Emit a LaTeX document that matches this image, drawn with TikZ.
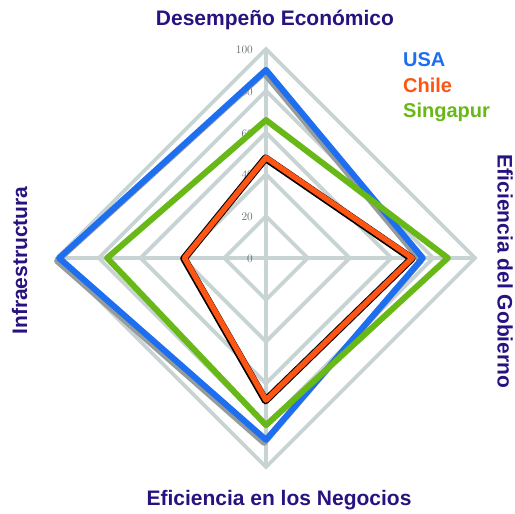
\documentclass[tikz,border=0pt]{standalone}
\usepackage{fontspec}
\usepackage{tikz}
\usetikzlibrary{positioning}
\newfontfamily\labelfont{Liberation Sans}
\definecolor{titlecol}{RGB}{40,18,128}
\definecolor{usablue}{RGB}{30,110,240}
\definecolor{chileorange}{RGB}{255,85,20}
\definecolor{singgreen}{RGB}{104,184,24}
\definecolor{gridgray}{RGB}{200,212,212}
\definecolor{shadowgray}{RGB}{150,155,155}
\definecolor{ticktext}{RGB}{95,105,105}
\tikzset{
    axistitle/.style={
        font=\labelfont\bfseries\fontsize{21}{21}\selectfont,
        text=titlecol, % titulos de los ejes
        inner sep=0,
        anchor=base
    },
    legendentry/.style={
        font=\labelfont\bfseries\fontsize{20}{20}\selectfont,
        inner sep=0,
        anchor=base west
    },
    ticklabel/.style={
        font=\fontsize{11.5}{11.5}\selectfont,
        text=ticktext,
        inner sep=0,
        anchor=base east
    },
    gridline/.style={draw=gridgray, line width=3.8pt},
    series/.style={line width=6pt, line join=round}
}

\begin{document}
\begin{tikzpicture}[x=1pt,y=1pt]
            \useasboundingbox (0,0) rectangle (515,514);
            % titulos
            \node[axistitle] (econ) at (275,488) {Desempeño Económico};
            \node[axistitle] (negocios) at (279,8) {Eficiencia en los Negocios};
            \node[axistitle, rotate=90] (infra) at (27,253.5) {Infraestructura};
            \node[axistitle, rotate=-90] (gobierno) at (497.5,242.5) {Eficiencia del Gobierno};
            % leyenda
            \node[legendentry, text=usablue] (usa) at (403,447) {USA};
            \node[legendentry, text=chileorange] (chile) at (403,421) {Chile};
            \node[legendentry, text=singgreen] (singapur) at (403,396.5) {Singapur};
            \begin{scope}[shift={(266,256)}]
                % rejilla
                \foreach \v in {20,40,...,100}
                    \draw[gridline] (90:{\v*2.09}) -- (0:{\v*2.09}) -- (270:{\v*2.09}) -- (180:{\v*2.09}) -- cycle;
                \draw[gridline] (90:209) -- (270:209);
                \draw[gridline] (180:209) -- (0:209);
                \foreach \v in {0,20,...,100}
                    \node[ticklabel] (t\v) at (-13,{\v*2.09-4.5}) {\v};
                % USA
                \draw[series, shadowgray, shift={(-2,-3)}] (90:{90*2.09}) -- (0:{75*2.09}) -- (270:{87*2.09}) -- (180:{99*2.09}) -- cycle;
                \draw[series, usablue] (90:{90*2.09}) -- (0:{75*2.09}) -- (270:{87*2.09}) -- (180:{99*2.09}) -- cycle;
                % Singapur
                \draw[series, singgreen] (90:{66*2.09}) -- (0:{87*2.09}) -- (270:{80*2.09}) -- (180:{76*2.09}) -- cycle;
                % Chile
                \draw[series, black, line width=7.5pt, shift={(-0.5,-0.5)}] (90:{48*2.09}) -- (0:{70*2.09}) -- (270:{68*2.09}) -- (180:{39*2.09}) -- cycle;
                \draw[series, chileorange, line width=5.5pt] (90:{48*2.09}) -- (0:{70*2.09}) -- (270:{68*2.09}) -- (180:{39*2.09}) -- cycle;
            \end{scope}
\end{tikzpicture}
\end{document}
